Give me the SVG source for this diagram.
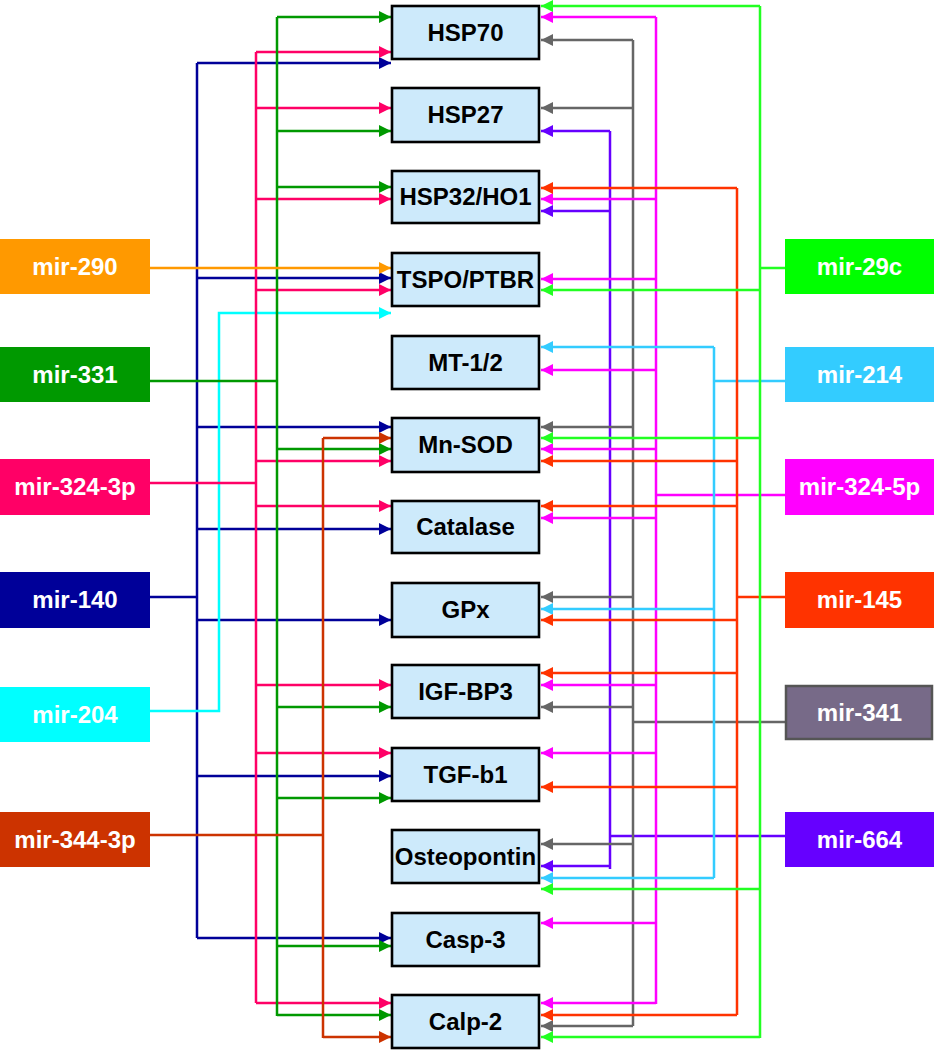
<svg xmlns="http://www.w3.org/2000/svg" width="934" height="1050" viewBox="0 0 934 1050">
<style>
.n rect{fill:#cdeafb;stroke:#000;stroke-width:2.6}
.n text{font-family:"Liberation Sans",Arial,sans-serif;font-weight:bold;font-size:24px;fill:#000;text-anchor:middle}
.m text{font-family:"Liberation Sans",Arial,sans-serif;font-weight:bold;font-size:24px;fill:#fff;text-anchor:middle}
.c path{fill:none;stroke-width:2.5}
</style>
<defs>
<marker id="aNavy" markerUnits="userSpaceOnUse" markerWidth="12" markerHeight="12" refX="12" refY="6" orient="auto"><path d="M0,0L12,6L0,12z" fill="#000099"/></marker>
<marker id="aCyan" markerUnits="userSpaceOnUse" markerWidth="12" markerHeight="12" refX="12" refY="6" orient="auto"><path d="M0,0L12,6L0,12z" fill="#00ffff"/></marker>
<marker id="aPink" markerUnits="userSpaceOnUse" markerWidth="12" markerHeight="12" refX="12" refY="6" orient="auto"><path d="M0,0L12,6L0,12z" fill="#ff0066"/></marker>
<marker id="aGreen" markerUnits="userSpaceOnUse" markerWidth="12" markerHeight="12" refX="12" refY="6" orient="auto"><path d="M0,0L12,6L0,12z" fill="#009900"/></marker>
<marker id="aBrown" markerUnits="userSpaceOnUse" markerWidth="12" markerHeight="12" refX="12" refY="6" orient="auto"><path d="M0,0L12,6L0,12z" fill="#cc3300"/></marker>
<marker id="aOrange" markerUnits="userSpaceOnUse" markerWidth="12" markerHeight="12" refX="12" refY="6" orient="auto"><path d="M0,0L12,6L0,12z" fill="#ff9900"/></marker>
<marker id="aPurple" markerUnits="userSpaceOnUse" markerWidth="12" markerHeight="12" refX="12" refY="6" orient="auto"><path d="M0,0L12,6L0,12z" fill="#6600ff"/></marker>
<marker id="aGray" markerUnits="userSpaceOnUse" markerWidth="12" markerHeight="12" refX="12" refY="6" orient="auto"><path d="M0,0L12,6L0,12z" fill="#666666"/></marker>
<marker id="aMag" markerUnits="userSpaceOnUse" markerWidth="12" markerHeight="12" refX="12" refY="6" orient="auto"><path d="M0,0L12,6L0,12z" fill="#ff00ff"/></marker>
<marker id="aSky" markerUnits="userSpaceOnUse" markerWidth="12" markerHeight="12" refX="12" refY="6" orient="auto"><path d="M0,0L12,6L0,12z" fill="#33ccff"/></marker>
<marker id="aRed" markerUnits="userSpaceOnUse" markerWidth="12" markerHeight="12" refX="12" refY="6" orient="auto"><path d="M0,0L12,6L0,12z" fill="#ff3300"/></marker>
<marker id="aLime" markerUnits="userSpaceOnUse" markerWidth="12" markerHeight="12" refX="12" refY="6" orient="auto"><path d="M0,0L12,6L0,12z" fill="#22ff22"/></marker>
</defs>

<g id="connectors" class="c">
<g stroke="#000099">
<path d="M197,63V938M150,597H197"/>
<path marker-end="url(#aNavy)" d="M197,63H391"/>
<path marker-end="url(#aNavy)" d="M197,278H391"/>
<path marker-end="url(#aNavy)" d="M197,427H391"/>
<path marker-end="url(#aNavy)" d="M197,529H391"/>
<path marker-end="url(#aNavy)" d="M197,620H391"/>
<path marker-end="url(#aNavy)" d="M197,776H391"/>
<path marker-end="url(#aNavy)" d="M197,938H391"/>
</g>
<g stroke="#00ffff">
<path marker-end="url(#aCyan)" d="M150,711H219V313H391"/>
</g>
<g stroke="#ff0066">
<path d="M256,52V1003M150,483H256"/>
<path marker-end="url(#aPink)" d="M256,52H391"/>
<path marker-end="url(#aPink)" d="M256,108H391"/>
<path marker-end="url(#aPink)" d="M256,199H391"/>
<path marker-end="url(#aPink)" d="M256,290H391"/>
<path marker-end="url(#aPink)" d="M256,461H391"/>
<path marker-end="url(#aPink)" d="M256,506H391"/>
<path marker-end="url(#aPink)" d="M256,685H391"/>
<path marker-end="url(#aPink)" d="M256,753H391"/>
<path marker-end="url(#aPink)" d="M256,1003H391"/>
</g>
<g stroke="#009900">
<path d="M277,17V1016M150,381H277"/>
<path marker-end="url(#aGreen)" d="M277,17H391"/>
<path marker-end="url(#aGreen)" d="M277,131H391"/>
<path marker-end="url(#aGreen)" d="M277,187H391"/>
<path marker-end="url(#aGreen)" d="M277,449H391"/>
<path marker-end="url(#aGreen)" d="M277,707H391"/>
<path marker-end="url(#aGreen)" d="M277,798H391"/>
<path marker-end="url(#aGreen)" d="M277,946H391"/>
<path marker-end="url(#aGreen)" d="M277,1015H391"/>
</g>
<g stroke="#cc3300">
<path d="M323,438V1038M150,835H323"/>
<path marker-end="url(#aBrown)" d="M323,438H391"/>
<path marker-end="url(#aBrown)" d="M323,1037H391"/>
</g>
<g stroke="#ff9900">
<path marker-end="url(#aOrange)" d="M150,268H391"/>
</g>
<g stroke="#6600ff">
<path d="M610,131V869M785,836H610"/>
<path marker-end="url(#aPurple)" d="M610,131H541"/>
<path marker-end="url(#aPurple)" d="M610,211H541"/>
<path marker-end="url(#aPurple)" d="M610,866H541"/>
</g>
<g stroke="#666666">
<path d="M633,40V1026M785,722H633"/>
<path marker-end="url(#aGray)" d="M633,40H541"/>
<path marker-end="url(#aGray)" d="M633,108H541"/>
<path marker-end="url(#aGray)" d="M633,427H541"/>
<path marker-end="url(#aGray)" d="M633,597H541"/>
<path marker-end="url(#aGray)" d="M633,707H541"/>
<path marker-end="url(#aGray)" d="M633,844H541"/>
<path marker-end="url(#aGray)" d="M633,1026H541"/>
</g>
<g stroke="#ff00ff">
<path d="M656,17V1004M785,495H656"/>
<path marker-end="url(#aMag)" d="M656,17H541"/>
<path marker-end="url(#aMag)" d="M656,199H541"/>
<path marker-end="url(#aMag)" d="M656,279H541"/>
<path marker-end="url(#aMag)" d="M656,370H541"/>
<path marker-end="url(#aMag)" d="M656,449H541"/>
<path marker-end="url(#aMag)" d="M656,518H541"/>
<path marker-end="url(#aMag)" d="M656,685H541"/>
<path marker-end="url(#aMag)" d="M656,753H541"/>
<path marker-end="url(#aMag)" d="M656,923H541"/>
<path marker-end="url(#aMag)" d="M656,1003H541"/>
</g>
<g stroke="#33ccff">
<path d="M714,347V878M785,381H714"/>
<path marker-end="url(#aSky)" d="M714,347H541"/>
<path marker-end="url(#aSky)" d="M714,609H541"/>
<path marker-end="url(#aSky)" d="M714,878H541"/>
</g>
<g stroke="#ff3300">
<path d="M737,188V1015M785,597H737"/>
<path marker-end="url(#aRed)" d="M737,188H541"/>
<path marker-end="url(#aRed)" d="M737,461H541"/>
<path marker-end="url(#aRed)" d="M737,506H541"/>
<path marker-end="url(#aRed)" d="M737,620H541"/>
<path marker-end="url(#aRed)" d="M737,673H541"/>
<path marker-end="url(#aRed)" d="M737,787H541"/>
<path marker-end="url(#aRed)" d="M737,1015H541"/>
</g>
<g stroke="#22ff22">
<path d="M760,6V1038M785,268H760"/>
<path marker-end="url(#aLime)" d="M760,6H541"/>
<path marker-end="url(#aLime)" d="M760,290H541"/>
<path marker-end="url(#aLime)" d="M760,438H541"/>
<path marker-end="url(#aLime)" d="M760,889H541"/>
<path marker-end="url(#aLime)" d="M760,1037H541"/>
</g>
</g>

<g id="HSP70" class="n"><rect x="392" y="6" width="147" height="53"/><text x="465.5" y="41">HSP70</text></g>
<g id="HSP27" class="n"><rect x="392" y="88" width="147" height="54"/><text x="465.5" y="123">HSP27</text></g>
<g id="HSP32" class="n"><rect x="392" y="171" width="147" height="52"/><text x="465.5" y="205">HSP32/HO1</text></g>
<g id="TSPO" class="n"><rect x="392" y="253" width="147" height="53"/><text x="465.5" y="288">TSPO/PTBR</text></g>
<g id="MT" class="n"><rect x="392" y="336" width="147" height="53"/><text x="465.5" y="371">MT-1/2</text></g>
<g id="MnSOD" class="n"><rect x="392" y="418" width="147" height="54"/><text x="465.5" y="453">Mn-SOD</text></g>
<g id="Catalase" class="n"><rect x="392" y="501" width="147" height="52"/><text x="465.5" y="535">Catalase</text></g>
<g id="GPx" class="n"><rect x="392" y="583" width="147" height="54"/><text x="465.5" y="618">GPx</text></g>
<g id="IGFBP3" class="n"><rect x="392" y="665" width="147" height="53"/><text x="465.5" y="700">IGF-BP3</text></g>
<g id="TGFb1" class="n"><rect x="392" y="748" width="147" height="53"/><text x="465.5" y="783">TGF-b1</text></g>
<g id="Osteopontin" class="n"><rect x="392" y="830" width="147" height="53"/><text x="465.5" y="865">Osteopontin</text></g>
<g id="Casp3" class="n"><rect x="392" y="913" width="147" height="53"/><text x="465.5" y="948">Casp-3</text></g>
<g id="Calp2" class="n"><rect x="392" y="995" width="147" height="53"/><text x="465.5" y="1030">Calp-2</text></g>

<g id="mir-290" class="m"><rect x="0" y="239" width="150" height="55" fill="#ff9900"/><text x="75" y="275">mir-290</text></g>
<g id="mir-331" class="m"><rect x="0" y="347" width="150" height="55" fill="#009900"/><text x="75" y="383">mir-331</text></g>
<g id="mir-324-3p" class="m"><rect x="0" y="459" width="150" height="56" fill="#ff0066"/><text x="75" y="495">mir-324-3p</text></g>
<g id="mir-140" class="m"><rect x="0" y="572" width="150" height="56" fill="#000099"/><text x="75" y="608">mir-140</text></g>
<g id="mir-204" class="m"><rect x="0" y="687" width="150" height="55" fill="#00ffff"/><text x="75" y="723">mir-204</text></g>
<g id="mir-344-3p" class="m"><rect x="0" y="812" width="150" height="55" fill="#cc3300"/><text x="75" y="848">mir-344-3p</text></g>

<g id="mir-29c" class="m"><rect x="785" y="239" width="149" height="55" fill="#00ff00"/><text x="859.5" y="275">mir-29c</text></g>
<g id="mir-214" class="m"><rect x="785" y="347" width="149" height="55" fill="#33ccff"/><text x="859.5" y="383">mir-214</text></g>
<g id="mir-324-5p" class="m"><rect x="785" y="459" width="149" height="56" fill="#ff00ff"/><text x="859.5" y="495">mir-324-5p</text></g>
<g id="mir-145" class="m"><rect x="785" y="572" width="149" height="56" fill="#ff3300"/><text x="859.5" y="608">mir-145</text></g>
<g id="mir-341" class="m"><rect x="786" y="686" width="146" height="53" fill="#776a88" stroke="#555555" stroke-width="2.5"/><text x="859.5" y="721">mir-341</text></g>
<g id="mir-664" class="m"><rect x="785" y="812" width="149" height="55" fill="#6600ff"/><text x="859.5" y="848">mir-664</text></g>
</svg>
